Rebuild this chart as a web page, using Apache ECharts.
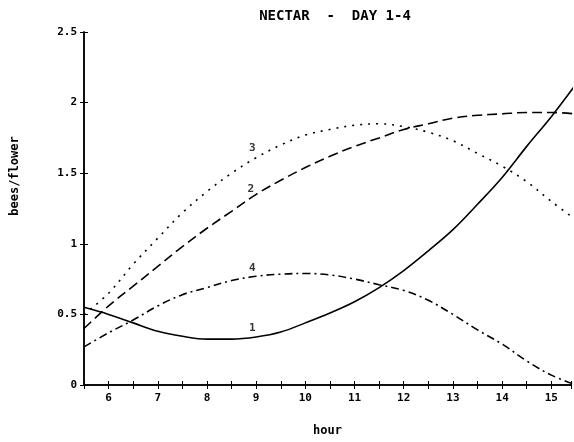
<!DOCTYPE html>
<html><head><meta charset="utf-8">
<script src="https://cdn.jsdelivr.net/npm/echarts@6/dist/echarts.min.js"></script>
<style>html,body{margin:0;padding:0;background:#fff}#c{width:574px;height:442px}</style>
</head><body><div id="c"></div>
<script>
const hours = [5.5,6,6.5,7,7.5,8,8.5,9,9.5,10,10.5,11,11.5,12,12.5,13,13.5,14,14.5,15,15.5];
const curve1 = [0.55,0.50,0.44,0.38,0.345,0.325,0.325,0.34,0.375,0.44,0.51,0.59,0.69,0.81,0.95,1.10,1.28,1.47,1.69,1.90,2.13];
const curve2 = [0.40,0.56,0.70,0.84,0.98,1.11,1.23,1.35,1.45,1.54,1.62,1.69,1.75,1.81,1.85,1.89,1.91,1.92,1.93,1.93,1.92];
const curve3 = [0.50,0.65,0.855,1.04,1.22,1.37,1.50,1.61,1.70,1.77,1.81,1.84,1.85,1.83,1.79,1.73,1.64,1.55,1.44,1.30,1.17];
const curve4 = [0.27,0.37,0.46,0.56,0.64,0.69,0.74,0.77,0.785,0.79,0.78,0.75,0.71,0.67,0.60,0.50,0.39,0.29,0.17,0.07,0.0];
const curveNames = ['1','2','3','4'];
const labelX = [8.92,8.89,8.92,8.92];
const labelY = [0.40,1.39,1.68,0.83];
const titleText = 'NECTAR  -  DAY 1-4';
const xName = 'hour';
const yName = 'bees/flower';

const FONT = 'DejaVu Sans Mono';
const zip = (ys) => hours.map((h, i) => [h, ys[i]]);
const dashes = ['solid', [10, 5], [2, 6], [8, 4, 2, 4]];
const allCurves = [curve1, curve2, curve3, curve4];

const baseX = {
  type: 'value', min: 5.5, max: 15.4, interval: 0.5, position: 'bottom',
  axisLine: {show: true, lineStyle: {color: '#000', width: 1.5}},
  splitLine: {show: false}
};
const baseY = {
  type: 'value', min: 0, max: 2.5, interval: 0.5, position: 'left',
  axisLine: {show: true, lineStyle: {color: '#000', width: 1.5}},
  splitLine: {show: false}
};

const chart = echarts.init(document.getElementById('c'));
chart.setOption({
  animation: false,
  backgroundColor: '#fff',
  title: {
    text: titleText, left: 330, top: 4, textAlign: 'center',
    textStyle: {fontFamily: FONT, fontWeight: 'bold', fontSize: 14, color: '#000'}
  },
  grid: {left: 84, right: 0, top: 32, bottom: 50},
  xAxis: [
    Object.assign({}, baseX, {
      name: xName, nameLocation: 'middle', nameGap: 40,
      nameTextStyle: {fontFamily: FONT, fontWeight: 'bold', fontSize: 12, color: '#000'},
      axisTick: {show: true, inside: false, length: 4, lineStyle: {color: '#000', width: 1}},
      axisLabel: {
        color: '#000', fontFamily: FONT, fontWeight: 'bold', fontSize: 11, margin: 8,
        formatter: v => (Math.abs(v - Math.round(v)) < 1e-9 ? String(v) : '')
      }
    }),
    Object.assign({}, baseX, {
      axisTick: {show: true, inside: true, length: 4, lineStyle: {color: '#000', width: 1}},
      axisLabel: {show: false}
    })
  ],
  yAxis: [
    Object.assign({}, baseY, {
      axisTick: {show: true, inside: false, length: 4, lineStyle: {color: '#000', width: 1}},
      axisLabel: {color: '#000', fontFamily: FONT, fontWeight: 'bold', fontSize: 11, margin: 7}
    }),
    Object.assign({}, baseY, {
      axisTick: {show: true, inside: true, length: 4, lineStyle: {color: '#000', width: 1}},
      axisLabel: {show: false}
    })
  ],
  graphic: [{
    type: 'text', x: 15, y: 176, rotation: Math.PI / 2,
    style: {text: yName, fill: '#000', font: 'bold 12px "DejaVu Sans Mono"', align: 'center', verticalAlign: 'middle'}
  }],
  series: allCurves.map((c, i) => ({
    type: 'line', name: curveNames[i], data: zip(c), smooth: 0.35, symbol: 'none',
    xAxisIndex: 0, yAxisIndex: 0,
    lineStyle: {color: '#000', width: 1.6, type: dashes[i]}
  })).concat([{
    type: 'scatter', symbolSize: 0, xAxisIndex: 0, yAxisIndex: 0,
    data: curveNames.map((n, i) => ({value: [labelX[i], labelY[i]], name: n})),
    label: {show: true, position: 'inside', formatter: p => p.name, color: '#000',
      fontFamily: FONT, fontWeight: 'bold', fontSize: 11}
  }])
});
</script></body></html>
